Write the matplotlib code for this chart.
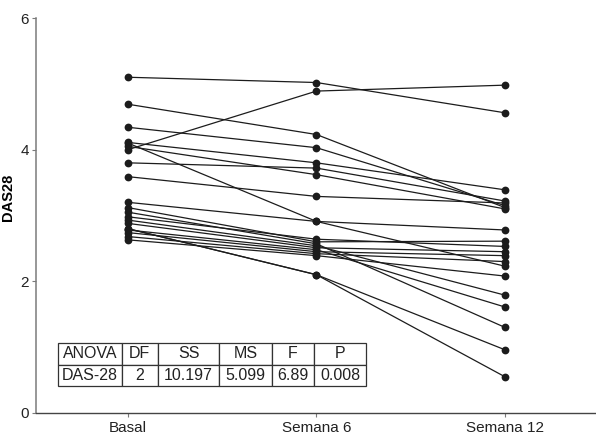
import matplotlib
matplotlib.use("Agg")
import matplotlib.pyplot as plt

# --- datos DAS28 por paciente ---
VISITAS = ["Basal", "Semana 6", "Semana 12"]

BASAL = [5.10, 4.00, 4.69, 4.34, 4.11, 3.80, 4.05, 3.59, 4.10, 3.20, 2.80, 2.80,
         3.12, 3.05, 2.98, 2.93, 2.88, 2.78, 2.74, 2.68, 2.63]
SEMANA_6 = [5.02, 4.89, 4.23, 4.03, 3.80, 3.72, 3.62, 3.29, 2.91, 2.91, 2.10, 2.10,
            2.60, 2.57, 2.64, 2.54, 2.51, 2.48, 2.45, 2.42, 2.39]
SEMANA_12 = [4.56, 4.98, 3.12, 3.15, 3.39, 3.22, 3.10, 3.19, 2.23, 2.78, 0.96, 0.55,
             2.61, 1.30, 2.53, 1.79, 2.45, 1.61, 2.39, 2.30, 2.08]

# tabla ANOVA
TABLA_CABECERA = ["ANOVA", "DF", "SS", "MS", "F", "P"]
TABLA_FILA = ["DAS-28", "2", "10.197", "5.099", "6.89", "0.008"]
TABLA_ANCHOS = [64, 36, 61.6, 52.4, 42.6, 51.4]

COLOR_PUNTO = "#1c1c1c"
COLOR_EJE = "#7a7a7a"

plt.rcParams['font.family'] = ['Liberation Sans', 'DejaVu Sans']
plt.rcParams['font.size'] = 11

fig = plt.figure(figsize=(5.96, 4.38), dpi=100)
ax = fig.add_axes([0.0604, 0.0571, 0.9396, 0.9018])

x = list(range(len(VISITAS)))
for b, s6, s12 in zip(BASAL, SEMANA_6, SEMANA_12):
    ax.plot(x, [b, s6, s12], color=COLOR_PUNTO, lw=0.9, marker='o',
            markersize=5.6, markerfacecolor=COLOR_PUNTO, markeredgewidth=0)

ax.set_xlim(-0.488, 2.483)
ax.set_ylim(0, 6)
ax.set_xticks(x)
ax.set_xticklabels(VISITAS)
ax.set_yticks([0, 2, 4, 6])

ax.spines['top'].set_visible(False)
ax.spines['right'].set_visible(False)
ax.spines['left'].set_color(COLOR_EJE)
ax.spines['bottom'].set_color("#444444")
ax.spines['left'].set_linewidth(1.1)
ax.spines['bottom'].set_linewidth(1.0)
ax.tick_params(axis='both', direction='out', length=3, width=0.8,
               color=COLOR_EJE, labelsize=11, labelcolor="#222222")
ax.tick_params(axis='x', pad=3)
ax.tick_params(axis='y', pad=2)

ax.set_ylabel("DAS28", fontweight='bold', fontsize=10.5)
ax.yaxis.set_label_coords(-0.038, 0.547)

# tabla dentro del grafico
total = sum(TABLA_ANCHOS)
tabla = ax.table(cellText=[TABLA_CABECERA, TABLA_FILA],
                 colWidths=[w / total for w in TABLA_ANCHOS],
                 cellLoc='center',
                 bbox=[0.0388, 0.0691, 0.55, 0.1073])
tabla.auto_set_font_size(False)
tabla.set_fontsize(11.5)
for (fila, col), celda in tabla.get_celld().items():
    celda.set_edgecolor("#333333")
    celda.set_linewidth(0.9)
    celda.set_facecolor("white")
    celda.PAD = 0.03
    celda.get_text().set_color("#222222")

fig.savefig("out.png", dpi=100)
